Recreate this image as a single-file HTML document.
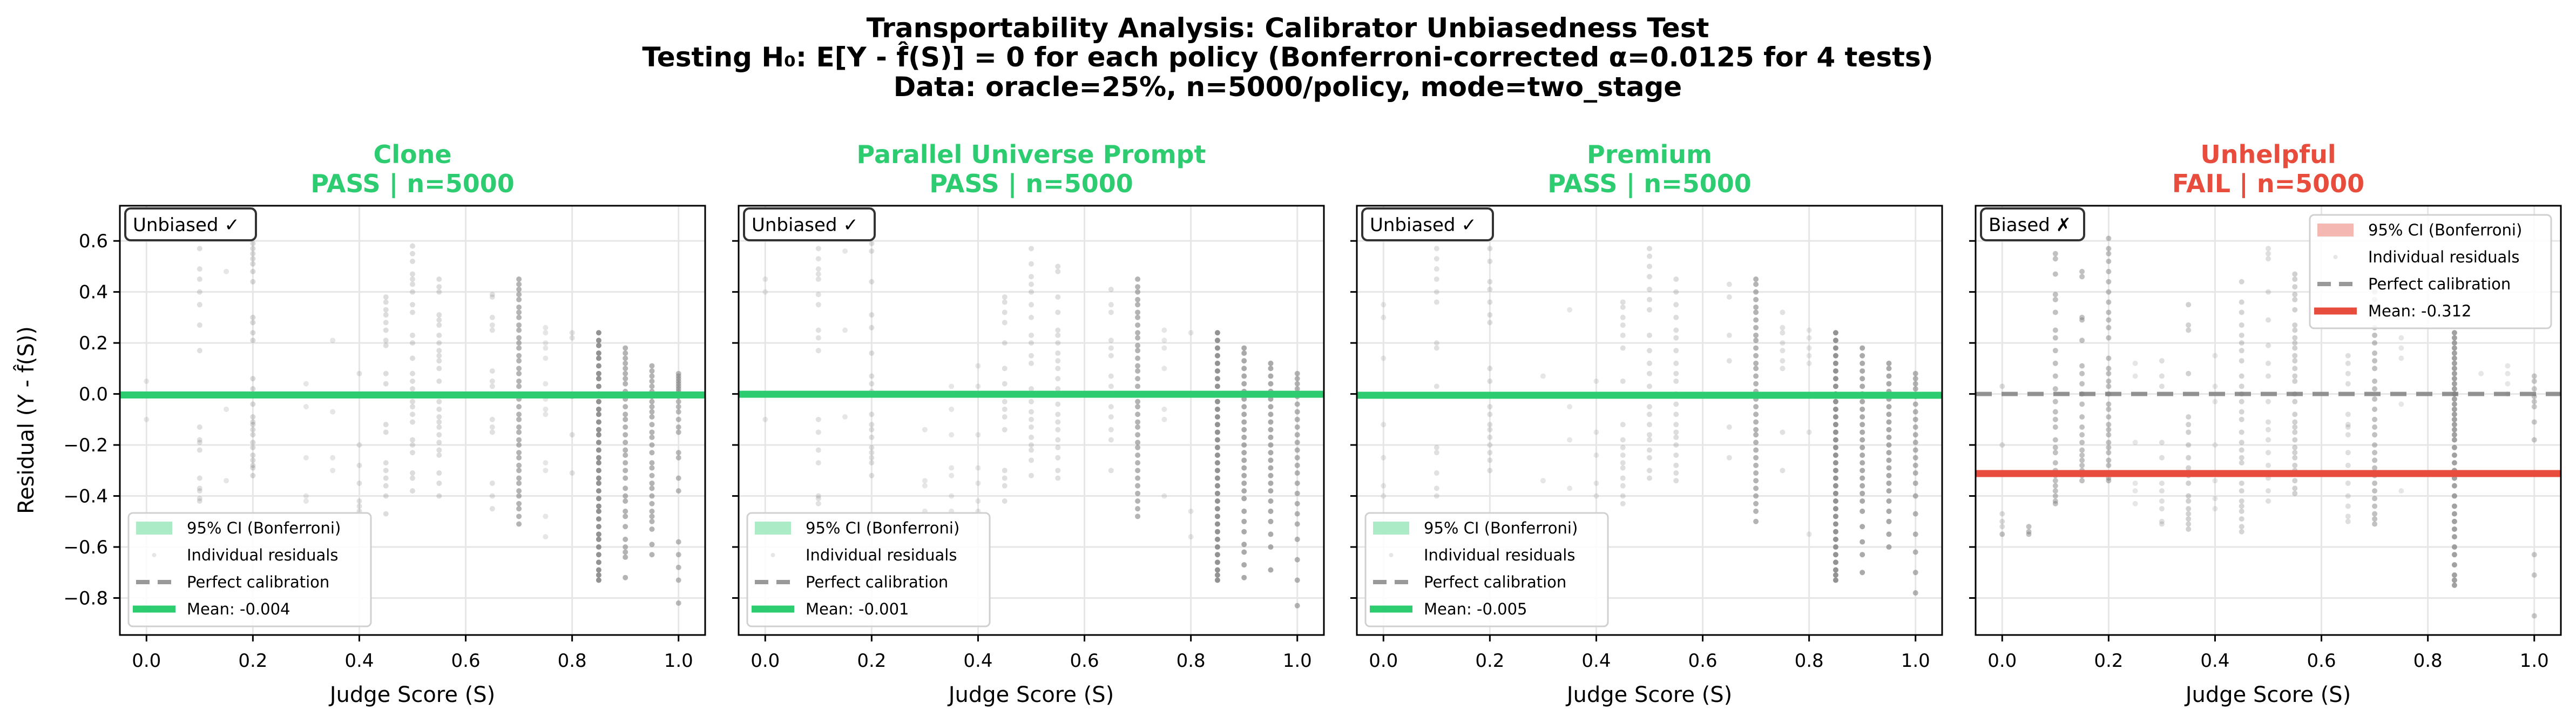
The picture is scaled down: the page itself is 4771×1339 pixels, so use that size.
<!DOCTYPE html>
<html><head><meta charset="utf-8">
<style>
html,body{margin:0;padding:0;background:#fff;}
svg{display:block;font-family:"DejaVu Sans","Liberation Sans",sans-serif;}
</style></head>
<body>
<svg id="chart" width="4771" height="1339" viewBox="0 0 4771 1339" xmlns="http://www.w3.org/2000/svg">
<text x="2385" y="69" text-anchor="middle" font-size="50" font-weight="bold">Transportability Analysis: Calibrator Unbiasedness Test</text>
<text x="2385" y="123" text-anchor="middle" font-size="50" font-weight="bold">Testing H₀: E[Y - f̂(S)] = 0 for each policy (Bonferroni-corrected α=0.0125 for 4 tests)</text>
<text x="2385" y="178" text-anchor="middle" font-size="50" font-weight="bold">Data: oracle=25%, n=5000/policy, mode=two_stage</text>
<text transform="translate(62,778) rotate(-90)" text-anchor="middle" font-size="40">Residual (Y - f̂(S))</text>
</svg>
<script>
// ---- data ----
const panelNames = ["Clone","Parallel Universe Prompt","Premium","Unhelpful"];
const panelStatus = ["PASS","PASS","PASS","FAIL"];
const panelN = [5000,5000,5000,5000];
const panelMeans = [-0.004,-0.001,-0.005,-0.312];
const panelCI = [0.012,0.012,0.012,0.012];
const xTicks = [0,0.2,0.4,0.6,0.8,1.0];
const xTickLabels = ["0.0","0.2","0.4","0.6","0.8","1.0"];
const yTicks = [0.6,0.4,0.2,0,-0.2,-0.4,-0.6,-0.8];
const yTickLabels = ["0.6","0.4","0.2","0.0","\u22120.2","\u22120.4","\u22120.6","\u22120.8"];

const p1X = [0,0.1,0.15,0.2,0.3,0.35,0.4,0.45,0.5,0.55,0.65,0.7,0.75,0.8,0.85,0.9,0.95,1.0];
const p1C = [1,1.3,1,1.6,1,1,1.2,1.4,1.4,1.4,1.2,4,1,1.2,9,4,4,3.5];
const p1Y = [
 [0.05,-0.1],
 [0.57,0.49,0.45,0.40,0.35,0.27,0.17,-0.13,-0.18,-0.19,-0.22,-0.33,-0.37,-0.38,-0.41,-0.42],
 [0.48,-0.06,-0.34],
 [0.59,0.57,0.55,0.53,0.51,0.48,0.44,0.30,0.28,0.24,0.21,0.06,0.02,-0.04,-0.09,-0.11,-0.12,-0.14,-0.16,-0.19,-0.21,-0.24,-0.26,-0.28,-0.29,-0.32],
 [0.04,-0.05,-0.25,-0.40,-0.42],
 [0.21,-0.07,-0.25,-0.30],
 [0.08,-0.20,-0.28,-0.35,-0.42,-0.44,-0.46],
 [0.38,0.36,0.33,0.31,0.28,0.25,0.21,0.19,0.08,0.04,-0.12,-0.15,-0.27,-0.30,-0.33,-0.36,-0.40,-0.47],
 [0.58,0.55,0.52,0.47,0.45,0.43,0.40,0.35,0.32,0.23,0.20,0.14,0.08,0.05,0.02,-0.03,-0.05,-0.08,-0.11,-0.18,-0.20,-0.23,-0.31,-0.33,-0.38],
 [0.45,0.42,0.40,0.31,0.29,0.27,0.23,0.20,0.17,0.15,0.13,0.10,0.05,0.0,-0.03,-0.06,-0.09,-0.11,-0.13,-0.16,-0.19,-0.22,-0.24,-0.31,-0.35,-0.40],
 [0.39,0.38,0.30,0.27,0.25,0.09,0.05,0.03,-0.10,-0.13,-0.15,-0.35,-0.40,-0.45],
 [0.45,0.43,0.41,0.39,0.37,0.34,0.32,0.30,0.27,0.25,0.22,0.20,0.18,0.15,0.13,0.10,0.08,0.05,0.03,0.0,-0.02,-0.05,-0.08,-0.10,-0.13,-0.15,-0.18,-0.20,-0.23,-0.25,-0.28,-0.30,-0.33,-0.35,-0.38,-0.40,-0.43,-0.45,-0.48,-0.51],
 [0.26,0.24,0.20,0.18,0.14,0.04,-0.02,-0.06,-0.08,-0.27,-0.30,-0.48,-0.56],
 [0.24,0.22,-0.01,-0.16,-0.31],
 [0.24,0.21,0.19,0.16,0.14,0.11,0.08,0.06,0.03,0.0,-0.03,-0.06,-0.08,-0.11,-0.14,-0.16,-0.19,-0.22,-0.25,-0.27,-0.30,-0.33,-0.35,-0.38,-0.41,-0.44,-0.46,-0.49,-0.52,-0.55,-0.57,-0.60,-0.63,-0.66,-0.69,-0.71,-0.73],
 [0.18,0.16,0.14,0.12,0.10,0.08,0.06,0.04,0.01,-0.02,-0.05,-0.08,-0.10,-0.13,-0.16,-0.19,-0.22,-0.24,-0.27,-0.30,-0.33,-0.37,-0.40,-0.42,-0.46,-0.48,-0.52,-0.57,-0.60,-0.62,-0.64,-0.72],
 [0.11,0.09,0.07,0.05,0.03,0.01,-0.01,-0.03,-0.05,-0.07,-0.09,-0.12,-0.15,-0.17,-0.20,-0.23,-0.27,-0.29,-0.32,-0.35,-0.37,-0.40,-0.43,-0.46,-0.48,-0.50,-0.53,-0.59,-0.63],
 [0.08,0.07,0.06,0.05,0.04,0.03,0.02,0.01,-0.01,-0.03,-0.05,-0.07,-0.10,-0.13,-0.15,-0.23,-0.25,-0.33,-0.38,-0.58,-0.63,-0.68,-0.73,-0.82]
];

const p2X = [0,0.1,0.15,0.2,0.3,0.35,0.4,0.45,0.5,0.55,0.65,0.7,0.75,0.8,0.85,0.9,0.95,1.0];
const p2C = [1,1.2,1,1.3,1,1,1,1.3,1.3,1.3,1.2,4,1,1,9,5,5,4];
const p2Y = [
 [0.45,0.40,-0.10],
 [0.57,0.53,0.49,0.47,0.45,0.39,0.35,0.25,0.22,0.17,-0.10,-0.15,-0.22,-0.27,-0.40,-0.41,-0.43],
 [0.56,0.25,-0.09],
 [0.59,0.56,0.44,0.31,0.26,0.16,0.07,0.04,0.01,-0.08,-0.12,-0.14,-0.17,-0.21,-0.23,-0.25,-0.27,-0.32],
 [-0.14,-0.34,-0.36,-0.46],
 [0.03,-0.06,-0.16,-0.29,-0.32,-0.40,-0.46],
 [0.11,0.03,-0.16,-0.29,-0.35,-0.42,-0.46],
 [0.38,0.36,0.32,0.28,0.20,0.10,0.04,0.0,-0.03,-0.06,-0.09,-0.14,-0.30,-0.33,-0.36,-0.42],
 [0.57,0.51,0.46,0.43,0.40,0.35,0.30,0.23,0.20,0.15,0.12,0.02,-0.03,-0.07,-0.10,-0.13,-0.17,-0.20,-0.22,-0.26,-0.32],
 [0.50,0.48,0.38,0.32,0.25,0.23,0.20,0.16,0.13,0.10,0.06,0.02,-0.04,-0.08,-0.11,-0.14,-0.18,-0.21,-0.25,-0.30,-0.33],
 [0.41,0.35,0.32,0.21,0.18,0.15,0.07,0.03,-0.05,-0.09,-0.14,-0.18,-0.30],
 [0.45,0.42,0.40,0.37,0.35,0.32,0.30,0.27,0.24,0.22,0.19,0.17,0.14,0.11,0.09,0.06,0.03,0.0,-0.03,-0.05,-0.08,-0.11,-0.13,-0.16,-0.19,-0.21,-0.24,-0.27,-0.30,-0.33,-0.36,-0.39,-0.42,-0.45,-0.48],
 [0.25,0.21,0.18,0.10,-0.06,-0.10,-0.40],
 [0.24,-0.46,-0.56],
 [0.24,0.21,0.18,0.15,0.12,0.09,0.06,0.03,0.0,-0.03,-0.06,-0.09,-0.12,-0.15,-0.18,-0.21,-0.24,-0.27,-0.30,-0.33,-0.36,-0.39,-0.42,-0.45,-0.48,-0.51,-0.54,-0.57,-0.60,-0.63,-0.66,-0.69,-0.71,-0.73],
 [0.18,0.16,0.13,0.10,0.07,0.04,0.01,-0.02,-0.05,-0.08,-0.11,-0.14,-0.17,-0.20,-0.23,-0.26,-0.29,-0.32,-0.35,-0.38,-0.41,-0.46,-0.50,-0.54,-0.59,-0.62,-0.67,-0.72],
 [0.12,0.10,0.07,0.04,0.01,-0.02,-0.05,-0.08,-0.11,-0.14,-0.17,-0.20,-0.23,-0.26,-0.29,-0.32,-0.35,-0.38,-0.42,-0.46,-0.50,-0.55,-0.60,-0.69],
 [0.08,0.06,0.04,0.02,-0.01,-0.04,-0.07,-0.10,-0.13,-0.16,-0.19,-0.22,-0.25,-0.28,-0.31,-0.35,-0.39,-0.43,-0.47,-0.51,-0.57,-0.65,-0.73,-0.83]
];

const p3X = [0,0.1,0.2,0.3,0.35,0.4,0.45,0.5,0.55,0.65,0.7,0.75,0.8,0.85,0.9,0.95,1.0];
const p3C = [1,1.2,1.3,1,1,1,1.3,1.4,1.4,1.2,4,1.2,1,9,5,5,4];
const p3Y = [
 [0.35,0.30,0.14,-0.12,-0.25,-0.36,-0.40],
 [0.57,0.53,0.49,0.45,0.40,0.36,0.20,0.18,0.03,-0.21,-0.23,-0.31,-0.37,-0.40],
 [0.57,0.52,0.44,0.41,0.36,0.31,0.28,0.10,0.05,-0.05,-0.08,-0.12,-0.14,-0.17,-0.20,-0.23,-0.26,-0.30],
 [0.07,-0.34],
 [0.33,-0.05,-0.18,-0.37],
 [0.05,-0.15,-0.24,-0.35,-0.40],
 [0.36,0.34,0.30,0.27,0.23,0.18,0.05,-0.12,-0.18,-0.21,-0.24,-0.27,-0.29,-0.33,-0.36,-0.40,-0.43],
 [0.57,0.54,0.50,0.46,0.41,0.37,0.33,0.23,0.17,0.12,0.08,0.03,-0.05,-0.08,-0.12,-0.16,-0.18,-0.22,-0.25,-0.30,-0.33],
 [0.45,0.40,0.35,0.30,0.25,0.22,0.17,0.12,0.08,0.05,0.0,-0.04,-0.08,-0.12,-0.15,-0.17,-0.20,-0.24,-0.28,-0.31,-0.34],
 [0.43,0.38,0.23,0.13,-0.13,-0.25],
 [0.45,0.43,0.40,0.37,0.34,0.32,0.29,0.26,0.23,0.21,0.18,0.15,0.12,0.10,0.07,0.04,0.01,-0.02,-0.05,-0.08,-0.11,-0.14,-0.16,-0.19,-0.22,-0.25,-0.28,-0.31,-0.34,-0.37,-0.40,-0.43,-0.46,-0.50],
 [0.32,0.26,0.24,0.20,0.17,0.13,0.10,-0.15,-0.30],
 [0.25,0.22,0.18,0.15,0.12,-0.15,-0.55],
 [0.24,0.21,0.18,0.15,0.12,0.09,0.06,0.03,0.0,-0.03,-0.06,-0.09,-0.12,-0.15,-0.18,-0.21,-0.24,-0.27,-0.30,-0.33,-0.36,-0.39,-0.42,-0.45,-0.48,-0.51,-0.54,-0.57,-0.60,-0.63,-0.66,-0.69,-0.71,-0.73],
 [0.18,0.15,0.12,0.09,0.06,0.03,0.0,-0.03,-0.06,-0.09,-0.12,-0.15,-0.18,-0.21,-0.24,-0.27,-0.30,-0.33,-0.36,-0.39,-0.42,-0.46,-0.52,-0.58,-0.63,-0.70],
 [0.12,0.10,0.07,0.04,0.01,-0.02,-0.05,-0.08,-0.11,-0.14,-0.17,-0.20,-0.23,-0.26,-0.29,-0.32,-0.35,-0.38,-0.42,-0.46,-0.50,-0.55,-0.60],
 [0.08,0.06,0.04,0.02,-0.01,-0.04,-0.07,-0.10,-0.13,-0.16,-0.19,-0.22,-0.25,-0.28,-0.31,-0.35,-0.40,-0.47,-0.55,-0.62,-0.70,-0.78]
];

const p4X = [0,0.05,0.1,0.15,0.2,0.25,0.3,0.35,0.4,0.45,0.5,0.55,0.65,0.7,0.75,0.85,0.9,0.95,1.0];
const p4C = [1.5,3,3,3,3,1,1.3,2,1,1.8,1.3,2,1.3,3,1,6,1,1,2.5];
const p4Y = [
 [0.03,-0.20,-0.47,-0.50,-0.52,-0.55,-0.55],
 [-0.52,-0.54,-0.55],
 [0.55,0.53,0.47,0.39,0.37,0.32,0.25,0.22,0.17,0.12,0.07,0.02,-0.03,-0.07,-0.10,-0.13,-0.18,-0.21,-0.23,-0.27,-0.30,-0.32,-0.34,-0.36,-0.38,-0.40,-0.42,-0.43],
 [0.48,0.46,0.30,0.29,0.21,0.11,0.08,0.04,0.0,-0.04,-0.09,-0.13,-0.16,-0.19,-0.22,-0.24,-0.26,-0.28,-0.30,-0.32,-0.34],
 [0.61,0.57,0.55,0.52,0.48,0.44,0.40,0.36,0.32,0.29,0.26,0.22,0.14,0.10,0.08,0.05,0.03,0.0,-0.04,-0.06,-0.09,-0.12,-0.14,-0.16,-0.19,-0.21,-0.23,-0.26,-0.28,-0.31,-0.33,-0.34],
 [0.12,0.07,-0.19,-0.35,-0.38,-0.43],
 [0.13,0.07,0.03,-0.19,-0.25,-0.35,-0.38,-0.42,-0.45,-0.50,-0.51],
 [0.35,0.27,0.25,0.08,-0.09,-0.12,-0.15,-0.20,-0.25,-0.29,-0.32,-0.35,-0.40,-0.42,-0.45,-0.47,-0.49,-0.51,-0.53],
 [0.15,0.03,-0.03,-0.20,-0.34,-0.41,-0.45],
 [0.44,0.36,0.32,0.27,0.23,0.20,0.17,0.13,0.07,0.03,0.0,-0.03,-0.07,-0.10,-0.15,-0.19,-0.22,-0.25,-0.27,-0.31,-0.35,-0.38,-0.42,-0.44,-0.46,-0.49,-0.52,-0.54],
 [0.57,0.55,0.53,0.40,0.29,0.19,0.12,0.07,-0.03,-0.11,-0.14,-0.18,-0.23,-0.28,-0.33,-0.38,-0.42],
 [0.47,0.45,0.42,0.39,0.37,0.33,0.27,0.25,0.22,0.20,0.18,0.15,0.13,0.10,0.07,0.05,0.0,-0.03,-0.08,-0.11,-0.13,-0.15,-0.18,-0.21,-0.23,-0.25,-0.28,-0.30,-0.34,-0.37,-0.39],
 [0.15,0.12,0.08,0.04,-0.08,-0.12,-0.13,-0.16,-0.23,-0.28,-0.35,-0.40,-0.44,-0.48,-0.50],
 [0.40,0.37,0.34,0.30,0.26,0.23,0.20,0.16,0.13,0.10,0.05,0.02,-0.02,-0.06,-0.10,-0.13,-0.16,-0.20,-0.23,-0.26,-0.29,-0.32,-0.35,-0.38,-0.41,-0.44,-0.47,-0.49,-0.51],
 [0.22,0.18,0.14,-0.04,-0.38],
 [0.24,0.22,0.20,0.18,0.16,0.14,0.12,0.10,0.08,0.06,0.04,0.02,0.0,-0.02,-0.04,-0.06,-0.08,-0.10,-0.12,-0.14,-0.16,-0.18,-0.21,-0.24,-0.27,-0.30,-0.33,-0.36,-0.40,-0.44,-0.47,-0.50,-0.53,-0.56,-0.60,-0.63,-0.67,-0.71,-0.73,-0.75],
 [0.08],
 [0.11,0.08,0.04,0.0],
 [0.07,0.05,0.02,-0.01,-0.03,-0.05,-0.11,-0.18,-0.63,-0.71,-0.87]
];

const panelXs = [p1X,p2X,p3X,p4X];
const panelYs = [p1Y,p2Y,p3Y,p4Y];
const panelCs = [p1C,p2C,p3C,p4C];

// ---- layout ----
const NS = "http://www.w3.org/2000/svg";
const svg = document.getElementById("chart");
const panelLeft = [222,1368,2513,3659];
const PW = 1084, TOP = 381, BOTTOM = 1176;
const X_MIN = -0.05, X_MAX = 1.05, Y_MIN = -0.945, Y_MAX = 0.738;
function xScale(i, v){ return panelLeft[i] + (v - X_MIN) / (X_MAX - X_MIN) * PW; }
function yScale(v){ return BOTTOM - (v - Y_MIN) / (Y_MAX - Y_MIN) * (BOTTOM - TOP); }
function mk(tag, attrs, parent){
  const e = document.createElementNS(NS, tag);
  for (const k in attrs) e.setAttribute(k, attrs[k]);
  (parent || svg).appendChild(e);
  return e;
}

for (let i = 0; i < 4; i++){
  const L = panelLeft[i], R = L + PW;
  const fail = panelStatus[i] === "FAIL";
  const col = fail ? "#e74c3c" : "#2ecc71";
  const ciCol = fail ? "#f5b7b1" : "#abebc6";
  const g = mk("g", {});
  
  

  // grid
  xTicks.forEach(function(t){
    const gl = mk("line", {x1:xScale(i,t), x2:xScale(i,t), y1:TOP, y2:BOTTOM, stroke:"#e6e6e6", "stroke-width":3}, g);
    
    
  });
  yTicks.forEach(function(t){
    const gl = mk("line", {x1:L, x2:R, y1:yScale(t), y2:yScale(t), stroke:"#e6e6e6", "stroke-width":3}, g);
    
    
  });

  // points
  const xs = panelXs[i], ys = panelYs[i], cs = panelCs[i];
  for (let c = 0; c < xs.length; c++){
    const a = Math.min(0.85, 1 - Math.pow(0.8, cs[c]));
    ys[c].forEach(function(v){
      const p = mk("circle", {cx:xScale(i,xs[c]), cy:yScale(v), r:5, fill:"#808080", "fill-opacity":a.toFixed(3)}, g);
      
      
    });
  }

  // CI band
  const ci = mk("rect", {x:L, y:yScale(panelMeans[i] + panelCI[i]), width:PW, height:yScale(panelMeans[i]-panelCI[i]) - yScale(panelMeans[i]+panelCI[i]), fill:ciCol, "fill-opacity":0.8}, g);
  
  
  // perfect calibration
  const pc = mk("line", {x1:L, x2:R, y1:yScale(0), y2:yScale(0), stroke:"#808080", "stroke-opacity":0.85, "stroke-width":8, "stroke-dasharray":"30,18"}, g);
  
  
  // mean
  const ml = mk("line", {x1:L, x2:R, y1:yScale(panelMeans[i]), y2:yScale(panelMeans[i]), stroke:col, "stroke-width":13}, g);
  
  

  // frame
  const fr = mk("rect", {x:L, y:TOP, width:PW, height:BOTTOM-TOP, fill:"none", stroke:"#000", "stroke-width":3}, g);
  
  

  // ticks
  xTicks.forEach(function(t, k){
    const tk = mk("line", {x1:xScale(i,t), x2:xScale(i,t), y1:BOTTOM, y2:BOTTOM+12, stroke:"#000", "stroke-width":3}, g);
    
    
    const tl = mk("text", {x:xScale(i,t), y:1235, "text-anchor":"middle", "font-size":34}, g);
    tl.textContent = xTickLabels[k];
    
    
  });
  yTicks.forEach(function(t, k){
    const tk = mk("line", {x1:L-12, x2:L, y1:yScale(t), y2:yScale(t), stroke:"#000", "stroke-width":3}, g);
    
    
    if (i === 0){
      const tl = mk("text", {x:L-22, y:yScale(t)+12, "text-anchor":"end", "font-size":34}, g);
      tl.textContent = yTickLabels[k];
      
      
    }
  });

  // x label
  const xl = mk("text", {x:L+PW/2, y:1300, "text-anchor":"middle", "font-size":40}, g);
  xl.textContent = "Judge Score (S)";
  
  

  // titles
  const t1 = mk("text", {x:L+PW/2, y:302, "text-anchor":"middle", "font-size":46, "font-weight":"bold", fill:col}, g);
  t1.textContent = panelNames[i];
  
  
  const t2 = mk("text", {x:L+PW/2, y:356, "text-anchor":"middle", "font-size":46, "font-weight":"bold", fill:col}, g);
  t2.textContent = panelStatus[i] + " | n=" + panelN[i];
  
  

  // badge
  const bw = fail ? 191 : 242;
  const bb = mk("rect", {x:L+10, y:386, width:bw, height:59, rx:10, fill:"#fff", stroke:"#333", "stroke-width":4}, g);
  
  
  const bt = mk("text", {x:L+24, y:428, "font-size":34}, g);
  bt.textContent = fail ? "Biased \u2717" : "Unbiased \u2713";
  
  

  // legend
  const lx = fail ? L + 619 : L + 16;
  const ly = fail ? 398 : 950;
  const lw = fail ? 447 : 449;
  const lg = mk("g", {}, g);
  
  
  mk("rect", {x:lx, y:ly, width:lw, height:210, rx:8, fill:"#fff", "fill-opacity":0.85, stroke:"#d0d0d0", "stroke-width":3}, lg);
  const labels = ["95% CI (Bonferroni)", "Individual residuals", "Perfect calibration", "Mean: " + panelMeans[i].toFixed(3)];
  const hx = lx + 14, hw = 67, tx = lx + 108;
  for (let r = 0; r < 4; r++){
    const ry = ly + 28 + r*50;
    if (r === 0){ const h = mk("rect", {x:hx, y:ry-12, width:hw, height:24, fill:ciCol}, lg);   }
    if (r === 1){ const h = mk("circle", {cx:hx+hw/2, cy:ry, r:4, fill:"#808080", "fill-opacity":0.2}, lg);   }
    if (r === 2){ const h = mk("line", {x1:hx, x2:hx+hw, y1:ry, y2:ry, stroke:"#999", "stroke-width":8, "stroke-dasharray":"25,15"}, lg);   }
    if (r === 3){ const h = mk("line", {x1:hx-6, x2:hx+hw+6, y1:ry, y2:ry, stroke:col, "stroke-width":13}, lg);   }
    const lt = mk("text", {x:tx, y:ry+10, "font-size":29}, lg);
    lt.textContent = labels[r];
    
    
  }
}
</script>
</body></html>
